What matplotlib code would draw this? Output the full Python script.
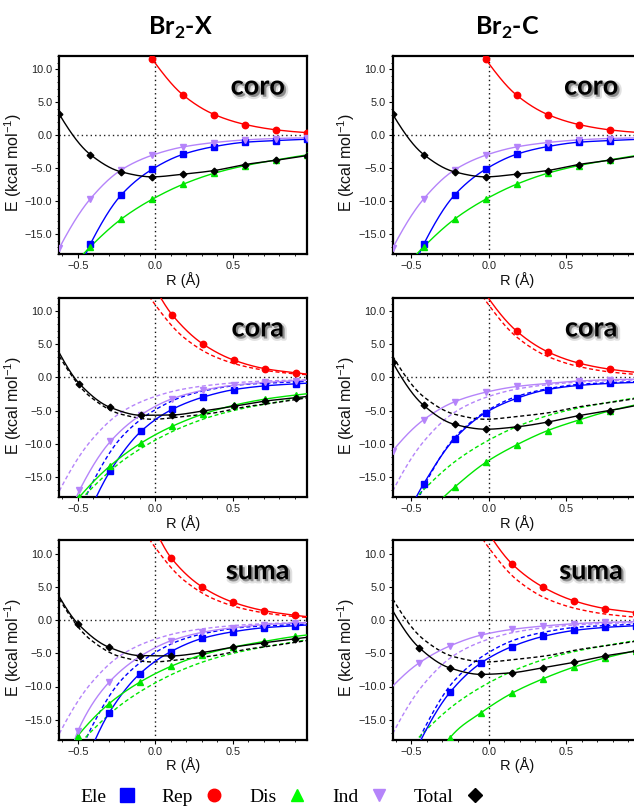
import numpy as np
import matplotlib
matplotlib.use("Agg")
import matplotlib.pyplot as plt
from matplotlib.lines import Line2D
import matplotlib.patheffects as pe
from matplotlib.ticker import MultipleLocator, FuncFormatter

nan = np.nan

# ---------------- data ----------------
# coro (identical for Br2-X and Br2-C); also drawn dashed in cora / suma panels
coro_R   = [-0.62, -0.42, -0.22, -0.02, 0.18, 0.38, 0.58, 0.78, 0.98]
coro_ele = [nan, -16.5, -9.04, -5.15, -2.88, -1.72, -1.06, -0.81, -0.61]
coro_rep = [nan, nan, nan, 11.5, 6.06, 3.13, 1.62, 0.81, 0.40]
coro_dis = [nan, -16.9, -12.7, -9.7, -7.42, -5.76, -4.6, -3.74, -2.98]
coro_ind = [-17.1, -9.65, -5.25, -3.03, -1.77, -1.11, -0.71, -0.50, -0.40]
coro_tot = [3.18, -2.93, -5.56, -6.31, -5.9, -5.35, -4.44, -3.79, -3.08]
# line ends beyond the first / last symbol (start, end)
coro_ele_ends = [(-0.46, -18.6), None]
coro_rep_ends = [(-0.04, 12.2), None]
coro_dis_ends = [(-0.48, -18.4), None]
coro_ind_ends = [None, None]
coro_tot_ends = [None, None]

# cora, Br2-X
cx_R   = [-0.49, -0.29, -0.09, 0.11, 0.31, 0.51, 0.71, 0.91]
cx_ele = [nan, -14.03, -8.06, -4.8, -2.96, -1.84, -1.28, -0.97]
cx_rep = [nan, nan, nan, 9.34, 4.95, 2.55, 1.28, 0.66]
cx_dis = [-18.0, -13.27, -9.85, -7.35, -5.51, -4.18, -3.27, -2.65]
cx_ind = [-17.0, -9.64, -5.6, -3.21, -1.94, -1.17, -0.77, -0.51]
cx_tot = [-0.97, -4.54, -5.71, -5.66, -5.05, -4.34, -3.57, -3.06]
cx_ele_ends = [(-0.39, -18.4), (0.98, -0.88)]
cx_rep_ends = [(0.025, 12.3), (0.98, 0.48)]
cx_dis_ends = [(-0.52, -18.9), (0.98, -2.47)]
cx_ind_ends = [(-0.52, -18.6), (0.98, -0.45)]
cx_tot_ends = [(-0.62, 3.67), (0.98, -2.88)]

# suma, Br2-X
sx_R   = [-0.50, -0.30, -0.10, 0.10, 0.30, 0.50, 0.70, 0.90]
sx_ele = [nan, -14.0, -8.08, -4.75, -2.78, -1.77, -1.16, -0.86]
sx_rep = [nan, nan, nan, 9.39, 5.0, 2.68, 1.41, 0.71]
sx_dis = [-17.4, -12.6, -9.34, -6.97, -5.25, -4.09, -3.23, -2.47]
sx_ind = [-16.67, -9.39, -5.5, -3.13, -1.87, -1.16, -0.70, -0.45]
sx_tot = [-0.56, -4.09, -5.35, -5.4, -4.9, -4.09, -3.43, -2.83]
sx_ele_ends = [(-0.40, -18.6), (0.98, -0.75)]
sx_rep_ends = [(0.025, 12.3), (0.98, 0.5)]
sx_dis_ends = [(-0.54, -18.7), (0.98, -2.25)]
sx_ind_ends = [(-0.53, -18.7), (0.98, -0.38)]
sx_tot_ends = [(-0.62, 3.5), (0.98, -2.6)]

# cora, Br2-C
cc_R   = [-0.62, -0.42, -0.22, -0.02, 0.18, 0.38, 0.58, 0.78, 0.98]
cc_ele = [nan, -16.0, -9.23, -5.31, -3.16, -1.84, -1.22, -0.92, -0.75]
cc_rep = [nan, nan, nan, nan, 6.94, 3.83, 2.14, 1.22, 0.70]
cc_dis = [nan, nan, -16.5, -12.8, -10.15, -8.01, -6.43, -5.05, -4.0]
cc_ind = [-11.07, -6.38, -3.67, -2.24, -1.38, -0.92, -0.56, -0.36, -0.28]
cc_tot = [2.24, -4.23, -7.09, -7.81, -7.45, -6.73, -5.77, -5.0, -4.1]
cc_ele_ends = [(-0.475, -18.3), None]
cc_rep_ends = [(-0.02, 12.5), None]
cc_dis_ends = [(-0.30, -18.2), None]
cc_ind_ends = [None, None]
cc_tot_ends = [None, None]

# suma, Br2-C
sc_R   = [-0.45, -0.25, -0.05, 0.15, 0.35, 0.55, 0.75, 0.95]
sc_ele = [nan, -10.86, -6.46, -3.99, -2.47, -1.57, -1.11, -0.85]
sc_rep = [nan, nan, nan, 8.43, 4.95, 2.88, 1.72, 1.11]
sc_dis = [nan, -17.7, -13.94, -11.0, -8.84, -7.07, -5.7, -4.6]
sc_ind = [-6.46, -3.89, -2.27, -1.41, -0.91, -0.56, -0.35, -0.25]
sc_tot = [-4.14, -7.22, -8.18, -7.93, -7.17, -6.36, -5.4, -4.65]
sc_ele_ends = [(-0.45, -18.6), (0.98, -0.8)]
sc_rep_ends = [(0.02, 12.3), (0.98, 1.0)]
sc_dis_ends = [(-0.265, -18.3), (0.98, -4.45)]
sc_ind_ends = [(-0.62, -9.95), (0.98, -0.22)]
sc_tot_ends = [(-0.62, 1.4), (0.98, -4.5)]

series_names = ["Ele", "Rep", "Dis", "Ind", "Total"]
column_titles = [r"Br$_\mathbf{2}$-X", r"Br$_\mathbf{2}$-C"]
row_labels = ["coro", "cora", "suma"]
x_ticks = [-0.5, 0.0, 0.5]
y_ticks = [-15, -10, -5, 0, 5, 10]

# ---------------- style ----------------
plt.rcParams["font.family"] = ["Liberation Sans", "DejaVu Sans"]
plt.rcParams["mathtext.fontset"] = "custom"
plt.rcParams["mathtext.rm"] = "Liberation Sans"
plt.rcParams["mathtext.bf"] = "Lato:bold"

colors = ["#0000ff", "#ff0000", "#00e600", "#b584fa", "#000000"]
markers = ["s", "o", "^", "v", "D"]
msizes = [4.9, 4.6, 4.0, 4.3, 3.4]


def pchip(x, y, xn):
    x = np.asarray(x, float); y = np.asarray(y, float)
    h = np.diff(x); d = np.diff(y) / h
    n = len(x)
    m = np.zeros(n)
    if n == 2:
        m[:] = d[0]
    else:
        for k in range(1, n - 1):
            if d[k - 1] * d[k] > 0:
                w1 = 2 * h[k] + h[k - 1]; w2 = h[k] + 2 * h[k - 1]
                m[k] = (w1 + w2) / (w1 / d[k - 1] + w2 / d[k])
        m0 = ((2 * h[0] + h[1]) * d[0] - h[0] * d[1]) / (h[0] + h[1])
        if np.sign(m0) != np.sign(d[0]):
            m0 = 0.0
        elif np.sign(d[0]) != np.sign(d[1]) and abs(m0) > abs(3 * d[0]):
            m0 = 3 * d[0]
        m[0] = m0
        mn = ((2 * h[-1] + h[-2]) * d[-1] - h[-1] * d[-2]) / (h[-1] + h[-2])
        if np.sign(mn) != np.sign(d[-1]):
            mn = 0.0
        elif np.sign(d[-1]) != np.sign(d[-2]) and abs(mn) > abs(3 * d[-1]):
            mn = 3 * d[-1]
        m[-1] = mn
    idx = np.clip(np.searchsorted(x, xn) - 1, 0, n - 2)
    t = (xn - x[idx]) / h[idx]
    h00 = 2 * t**3 - 3 * t**2 + 1
    h10 = t**3 - 2 * t**2 + t
    h01 = -2 * t**3 + 3 * t**2
    h11 = t**3 - t**2
    return h00 * y[idx] + h10 * h[idx] * m[idx] + h01 * y[idx + 1] + h11 * h[idx] * m[idx + 1]


def draw_series(ax, R, ys, ends, i, dashed=False):
    R = np.asarray(R, float); ys = np.asarray(ys, float)
    ok = ~np.isnan(ys)
    kx = list(R[ok]); ky = list(ys[ok])
    if ends[0] is not None:
        kx.insert(0, ends[0][0]); ky.insert(0, ends[0][1])
    if ends[1] is not None:
        kx.append(ends[1][0]); ky.append(ends[1][1])
    xs = np.linspace(kx[0], kx[-1], 500)
    yy = pchip(kx, ky, xs)
    if dashed:
        ax.plot(xs, yy, color=colors[i], lw=1.0, ls=(0, (2.9, 1.9)), zorder=2)
    else:
        ax.plot(xs, yy, color=colors[i], lw=1.0, zorder=3)
        ax.plot(R[ok], ys[ok], ls="none", marker=markers[i], ms=msizes[i],
                color=colors[i], mec=colors[i], zorder=5 + i * 0.1)


coro_set = ([coro_ele, coro_rep, coro_dis, coro_ind, coro_tot],
            [coro_ele_ends, coro_rep_ends, coro_dis_ends, coro_ind_ends, coro_tot_ends])
panels = [
    [(coro_R, coro_set), (coro_R, coro_set)],
    [(cx_R, ([cx_ele, cx_rep, cx_dis, cx_ind, cx_tot],
             [cx_ele_ends, cx_rep_ends, cx_dis_ends, cx_ind_ends, cx_tot_ends])),
     (cc_R, ([cc_ele, cc_rep, cc_dis, cc_ind, cc_tot],
             [cc_ele_ends, cc_rep_ends, cc_dis_ends, cc_ind_ends, cc_tot_ends]))],
    [(sx_R, ([sx_ele, sx_rep, sx_dis, sx_ind, sx_tot],
             [sx_ele_ends, sx_rep_ends, sx_dis_ends, sx_ind_ends, sx_tot_ends])),
     (sc_R, ([sc_ele, sc_rep, sc_dis, sc_ind, sc_tot],
             [sc_ele_ends, sc_rep_ends, sc_dis_ends, sc_ind_ends, sc_tot_ends]))],
]

W, H = 634, 807
fig = plt.figure(figsize=(W / 100, H / 100), dpi=100)

col_left = [59.3, 392.7]
col_width = 248.0
row_top = [56.0, 297.5, 540.2]
row_height = [198.0, 199.5, 199.5]

fmt = FuncFormatter(lambda v, p: ("%.1f" % (0.0 if abs(v) < 1e-9 else v)).replace("-", "\u2212"))

label_effects = [
    pe.Stroke(offset=(1.6, -1.6), linewidth=3.0, foreground="#c8c8c8", alpha=0.55),
    pe.SimplePatchShadow(offset=(1.3, -1.3), shadow_rgbFace="#777777", alpha=0.55),
    pe.Normal(),
]

for r in range(3):
    for c in range(2):
        ax = fig.add_axes([col_left[c] / W, 1 - (row_top[r] + row_height[r]) / H,
                           col_width / W, row_height[r] / H])
        ax.set_xlim(-0.62, 0.98)
        ax.set_ylim(-18, 12)
        ax.axhline(0, color="#222222", lw=1.0, ls=(0, (1, 2.2)), zorder=1)
        ax.axvline(0, color="#111111", lw=1.0, ls=(0, (1, 2.2)), zorder=1)
        R, (ys_list, ends_list) = panels[r][c]
        if r > 0:
            for i in range(5):
                draw_series(ax, coro_R, coro_set[0][i], coro_set[1][i], i, dashed=True)
        for i in range(5):
            draw_series(ax, R, ys_list[i], ends_list[i], i)
        ax.set_xticks(x_ticks)
        ax.set_yticks(y_ticks)
        ax.xaxis.set_minor_locator(MultipleLocator(0.1))
        ax.yaxis.set_minor_locator(MultipleLocator(1.0))
        ax.xaxis.set_major_formatter(fmt)
        ax.yaxis.set_major_formatter(fmt)
        ax.tick_params(which="major", direction="out", length=3, width=0.8,
                       labelsize=7.8, labelcolor="#222222", pad=2)
        ax.tick_params(which="minor", direction="out", length=1.6, width=0.6)
        for s in ax.spines.values():
            s.set_linewidth(1.6)
        ax.set_ylabel("E (kcal mol$^{-1}$)", fontsize=11.5, color="#111111")
        ax.yaxis.set_label_coords(-0.142, 0.46)
        ax.set_xlabel("R (\u00c5)", fontsize=10.5, labelpad=0.5, color="#111111")
        ax.text(0.80, 0.805, row_labels[r], transform=ax.transAxes, ha="center",
                va="baseline", fontsize=19.5, fontfamily="Lato", fontweight="bold",
                color="#000000", path_effects=label_effects, zorder=10)

for c, (title, xc) in enumerate(zip(column_titles, [180, 507])):
    fig.text(xc / W, 1 - 35 / H, title, ha="center", va="baseline",
             fontsize=18, fontfamily="Lato", fontweight="bold")

handles = [Line2D([], [], ls="none", marker=markers[i], color=colors[i],
                  ms=[9.5, 9.0, 9.0, 9.0, 7.5][i]) for i in range(5)]
handles[2].set_color("#00ff00")
fig.legend(handles, series_names, loc="center left",
           bbox_to_anchor=(80 / W, 1 - 797 / H), ncol=5, markerfirst=False,
           frameon=False, handlelength=0.7, handletextpad=0.72, columnspacing=1.45,
           borderpad=0, borderaxespad=0,
           prop={"family": "Liberation Serif", "size": 14})

fig.savefig("out.png", dpi=100)
